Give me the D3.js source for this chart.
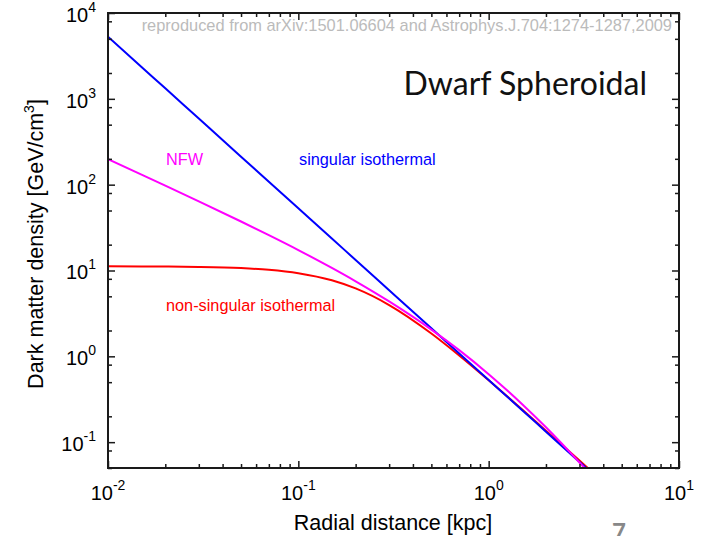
<!DOCTYPE html>
<html>
<head>
<meta charset="utf-8">
<script src="https://cdn.jsdelivr.net/npm/d3@7"></script>
<style>
  body { margin: 0; background: #fff; }
  svg { display: block; font-family: "Liberation Sans", Arial, Helvetica, sans-serif; }
</style>
</head>
<body>
<div class="densityViz"></div>
<script>
var radius = [0.01, 0.015, 0.02, 0.03, 0.05, 0.07, 0.1, 0.15, 0.2, 0.3, 0.5, 0.7, 1, 1.5, 2, 3, 3.5];
// dark matter density [GeV/cm^3]
var singularIso = [5300, 2356, 1325, 589, 212, 108, 53, 23.6, 13.25, 5.89, 2.12, 1.08, 0.53, 0.236, 0.1325, 0.0589, 0.0433];
var nfw = [198, 131, 97.5, 64, 37.2, 25.8, 17.3, 10.7, 7.48, 4.36, 2.05, 1.18, 0.62, 0.277, 0.149, 0.058, 0.040];
var nonSingularIso = [11.18, 11.15, 11.11, 11.0, 10.66, 10.19, 9.31, 7.69, 6.18, 3.96, 1.845, 1.024, 0.526, 0.240, 0.136, 0.061, 0.0449];

var xMajor = [0.01, 0.1, 1, 10],
    xExponents = ["-2", "-1", "0", "1"];
var yMajor = [0.1, 1, 10, 100, 1000, 10000],
    yExponents = ["-1", "0", "1", "2", "3", "4"];
var xMinorSteps = [2, 3, 4, 5, 6, 7, 8, 9],
    yMinorSteps = [2, 5, 8];

var densityChart = function(){

  var width = 708,
      height = 536,
      plotLeft = 108, plotRight = 679, plotTop = 13, plotBottom = 468;

  var x = d3.scaleLog().domain([0.01, 10]).range([plotLeft, plotRight]);
  var y = d3.scaleLog().domain([0.05, 10000]).range([plotBottom, plotTop]);

  var xMinor = [], yMinor = [];
  [0.01, 0.1, 1].forEach(function(d){
    xMinorSteps.forEach(function(s){ xMinor.push(d * s); });
  });
  [0.01, 0.1, 1, 10, 100, 1000].forEach(function(d){
    yMinorSteps.forEach(function(s){
      var v = d * s;
      if (v >= 0.05 && v < 10000) yMinor.push(v);
    });
  });

  var svg = d3.select(".densityViz").append("svg")
      .attr("width", width)
      .attr("height", height);

  svg.append("rect").attr("width", width).attr("height", height).style("fill", "#fff");

  // clip for the curves
  svg.append("clipPath")
      .attr("id", "plotClip")
    .append("rect")
      .attr("x", plotLeft)
      .attr("y", plotTop)
      .attr("width", plotRight - plotLeft)
      .attr("height", plotBottom - plotTop);

  var series = [
    {name: "non-singular isothermal", values: nonSingularIso, color: "#ff0000"},
    {name: "singular isothermal", values: singularIso, color: "#0000ff"},
    {name: "NFW", values: nfw, color: "#ff00ff"}
  ];

  var line = d3.line()
      .x(function(d){ return x(d[0]); })
      .y(function(d){ return y(d[1]); })
      .curve(d3.curveMonotoneX);

  svg.append("g")
      .attr("clip-path", "url(#plotClip)")
    .selectAll("path")
      .data(series)
      .enter()
      .append("path")
        .attr("d", function(s){ return line(radius.map(function(r, i){ return [r, s.values[i]]; })); })
        .style("fill", "none")
        .style("stroke", function(s){ return s.color; })
        .style("stroke-width", 2);

  // ticks pointing inward on all four sides
  function tickAxis(axis, vals, size, transform) {
    var g = svg.append("g")
        .attr("transform", transform)
        .call(axis.tickValues(vals).tickSizeInner(-size).tickSizeOuter(0).tickFormat(""));
    g.select(".domain").remove();
    g.selectAll("line").style("stroke", "#1a1a1a").style("stroke-width", 1.5);
    return g;
  }
  tickAxis(d3.axisBottom(x), xMajor, 7, "translate(0," + plotBottom + ")");
  tickAxis(d3.axisBottom(x), xMinor, 4, "translate(0," + plotBottom + ")");
  tickAxis(d3.axisTop(x), xMajor, 7, "translate(0," + plotTop + ")");
  tickAxis(d3.axisTop(x), xMinor, 4, "translate(0," + plotTop + ")");
  tickAxis(d3.axisLeft(y), yMajor, 7, "translate(" + plotLeft + ",0)");
  tickAxis(d3.axisLeft(y), yMinor, 4, "translate(" + plotLeft + ",0)");
  tickAxis(d3.axisRight(y), yMajor, 7, "translate(" + plotRight + ",0)");
  tickAxis(d3.axisRight(y), yMinor, 4, "translate(" + plotRight + ",0)");

  // frame
  svg.append("rect")
      .attr("x", plotLeft)
      .attr("y", plotTop)
      .attr("width", plotRight - plotLeft)
      .attr("height", plotBottom - plotTop)
      .style("fill", "none")
      .style("stroke", "#1a1a1a")
      .style("stroke-width", 2);

  // power-of-ten labels
  var xLab = svg.selectAll(".xlab")
      .data(xMajor)
      .enter()
      .append("text")
        .attr("class", "xlab")
        .attr("x", function(d){ return x(d); })
        .attr("y", 500)
        .style("text-anchor", "middle")
        .style("font-size", "20px");
  xLab.append("tspan").text("10");
  xLab.append("tspan").attr("dy", -10).style("font-size", "14px")
      .text(function(d, i){ return xExponents[i]; });

  var yLab = svg.selectAll(".ylab")
      .data(yMajor)
      .enter()
      .append("text")
        .attr("class", "ylab")
        .attr("x", 96)
        .attr("y", function(d){ return y(d) + 9; })
        .style("text-anchor", "end")
        .style("font-size", "20px");
  yLab.append("tspan").text("10");
  yLab.append("tspan").attr("dy", -10).style("font-size", "14px")
      .text(function(d, i){ return yExponents[i]; });

  // axis titles
  svg.append("text")
      .attr("x", 393)
      .attr("y", 530)
      .style("text-anchor", "middle")
      .style("font-size", "21.5px")
      .text("Radial distance [kpc]");

  var yTitle = svg.append("text")
      .attr("transform", "translate(43,244) rotate(-90)")
      .style("text-anchor", "middle")
      .style("font-size", "21.5px");
  yTitle.append("tspan").text("Dark matter density [GeV/cm");
  yTitle.append("tspan").attr("dy", -9).style("font-size", "14px").text("3");
  yTitle.append("tspan").attr("dy", 9).text("]");

  // curve labels
  var labels = [
    {text: "NFW", x: 166, y: 165, color: "#ff00ff"},
    {text: "singular isothermal", x: 299, y: 165, color: "#0000ff"},
    {text: "non-singular isothermal", x: 166, y: 311, color: "#ff0000"}
  ];
  svg.selectAll(".curveLabel")
      .data(labels)
      .enter()
      .append("text")
        .attr("class", "curveLabel")
        .attr("x", function(d){ return d.x; })
        .attr("y", function(d){ return d.y; })
        .style("font-size", "16.3px")
        .style("fill", function(d){ return d.color; })
        .text(function(d){ return d.text; });

  svg.append("text")
      .attr("x", 672)
      .attr("y", 31)
      .style("text-anchor", "end")
      .style("font-size", "16.4px")
      .style("fill", "#bbbbbb")
      .text("reproduced from arXiv:1501.06604 and Astrophys.J.704:1274-1287,2009");

  svg.append("text")
      .attr("x", 647)
      .attr("y", 95)
      .style("text-anchor", "end")
      .style("font-family", "Lato, 'Open Sans', sans-serif")
      .style("font-size", "32px")
      .style("fill", "#111")
      .text("Dwarf Spheroidal");

  svg.append("text")
      .attr("x", 612)
      .attr("y", 541)
      .style("font-family", "Lato, sans-serif")
      .style("font-weight", "bold")
      .style("font-size", "24px")
      .style("fill", "#888")
      .text("7");
};

densityChart();
</script>
</body>
</html>
